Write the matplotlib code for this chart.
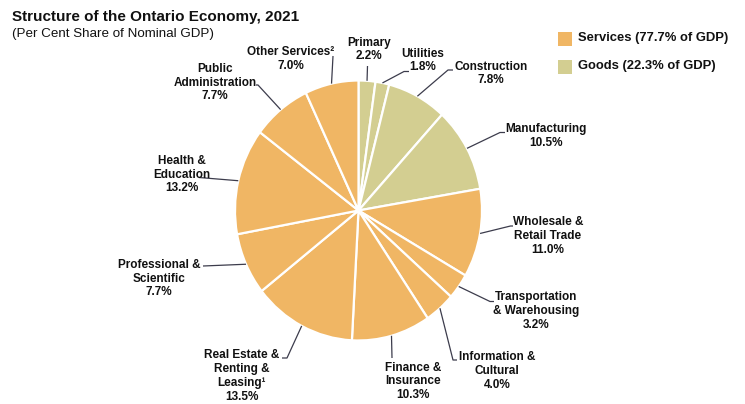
import numpy as np
import matplotlib
matplotlib.use("Agg")
import matplotlib.pyplot as plt
from matplotlib.patches import Rectangle

plt.rcParams['font.family'] = ['Liberation Sans', 'DejaVu Sans']

# sector shares of nominal GDP, clockwise from 12 o'clock
sectors = ['Primary', 'Utilities', 'Construction', 'Manufacturing',
           'Wholesale &\nRetail Trade', 'Transportation\n& Warehousing',
           'Information &\nCultural', 'Finance &\nInsurance',
           'Real Estate &\nRenting &\nLeasing\u00b9', 'Professional &\nScientific',
           'Health &\nEducation', 'Public\nAdministration', 'Other Services\u00b2']
shares = [2.2, 1.8, 7.8, 10.5, 11.0, 3.2, 4.0, 10.3, 13.5, 7.7, 13.2, 7.7, 7.0]
groups = ['G', 'G', 'G', 'G', 'S', 'S', 'S', 'S', 'S', 'S', 'S', 'S', 'S']
legend_labels = ['Services (77.7% of GDP)', 'Goods (22.3% of GDP)']

colors = {'S': '#F0B664', 'G': '#D3CE91'}
line_col = '#3c3c4c'

W, H = 745, 404
cx, cy, rx, ry = 358.5, 210.5, 123.5, 130.0

# label block centres and leader-line bends (pixels from top-left)
label_pos = [(369, 49.5), (423, 60.5), (491, 73.5), (546, 136),
             (548, 236), (536, 311), (497, 371), (413, 381.5),
             (242, 376), (159, 278.5), (182, 174.5), (215, 82.5), (291, 59)]
bends = [[(367.5, 66)], [(404, 71.5), (409, 71.5)], [(448, 70), (453, 70)],
         [(500, 132.5), (505, 132.5)], [(510.5, 226), (513, 226)],
         [(490, 301.5), (494, 301.5)], [(453, 360), (457, 360)],
         [(392, 358)], [(287, 358), (282, 358)], [(203, 266)],
         [(199, 177.5)], [(258, 85), (256, 85)], [(333, 56)]]

fig = plt.figure(figsize=(W / 100, H / 100), dpi=100)

pax = fig.add_axes([(cx - rx) / W, (H - cy - ry) / H, 2 * rx / W, 2 * ry / H])
wedges, _ = pax.pie(shares, colors=[colors[g] for g in groups], startangle=90,
                    counterclock=False, radius=1,
                    wedgeprops=dict(edgecolor='white', linewidth=1.6))
pax.set_xlim(-1, 1)
pax.set_ylim(-1, 1)
pax.set_aspect('auto')
pax.axis('off')

ax = fig.add_axes([0, 0, 1, 1], zorder=3)
ax.set_xlim(0, W)
ax.set_ylim(H, 0)
ax.axis('off')

for w, name, val, (tx, ty), pts in zip(wedges, sectors, shares, label_pos, bends):
    mid = np.deg2rad((w.theta1 + w.theta2) / 2)
    ex, ey = cx + rx * np.cos(mid), cy - ry * np.sin(mid)
    xs = [ex] + [p[0] for p in pts]
    ys = [ey] + [p[1] for p in pts]
    ax.plot(xs, ys, color=line_col, lw=0.9, solid_capstyle='butt')
    ax.text(tx, ty, f'{name}\n{val:.1f}%', ha='center', va='center',
            fontsize=8.5, fontweight='bold', color='#111111', linespacing=1.2)

ax.text(12, 17, 'Structure of the Ontario Economy, 2021', fontsize=11,
        fontweight='bold', va='center', ha='left', color='#111111')
ax.text(12, 34, '(Per Cent Share of Nominal GDP)', fontsize=9.6,
        va='center', ha='left', color='#111111')

for i, (lab, g) in enumerate(zip(legend_labels, ['S', 'G'])):
    y = 38.5 + i * 28
    ax.add_patch(Rectangle((558, y - 7), 14, 14, facecolor=colors[g], edgecolor='none'))
    ax.text(578, y, lab, fontsize=9.4, fontweight='bold', va='center', ha='left',
            color='#111111')

fig.savefig('out.png', dpi=100, facecolor='white')
